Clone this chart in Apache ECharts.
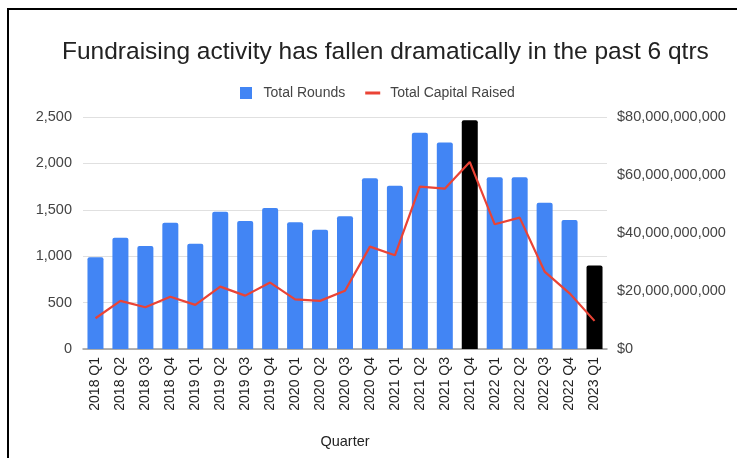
<!DOCTYPE html>
<html>
<head>
<meta charset="utf-8">
<script src="https://cdn.jsdelivr.net/npm/echarts@6/dist/echarts.min.js"></script>
<style>
  html, body { margin: 0; padding: 0; background: #fff; }
  #frame {
    position: absolute; left: 7px; top: 8px; width: 730px; height: 450px;
    border-top: 2px solid #000; border-left: 2px solid #000; box-sizing: border-box;
  }
  #chart { position: absolute; left: 0; top: 0; width: 737px; height: 458px; }
</style>
</head>
<body>
<div id="chart"></div>
<div id="frame"></div>
<script>
// quarters
const quarters = [
  '2018 Q1', '2018 Q2', '2018 Q3', '2018 Q4',
  '2019 Q1', '2019 Q2', '2019 Q3', '2019 Q4',
  '2020 Q1', '2020 Q2', '2020 Q3', '2020 Q4',
  '2021 Q1', '2021 Q2', '2021 Q3', '2021 Q4',
  '2022 Q1', '2022 Q2', '2022 Q3', '2022 Q4',
  '2023 Q1'
]
// number of rounds (left axis)
const totalRounds = [
  990, 1200, 1110, 1360,
  1135, 1480, 1380, 1520,
  1365, 1285, 1430, 1840,
  1760, 2330, 2225, 2465,
  1850, 1850, 1575, 1390,
  900
]
// capital raised, $ (right axis)
const capitalRaised = [
  10.6e9, 16.6e9, 14.4e9, 18.0e9,
  15.2e9, 21.5e9, 18.4e9, 22.9e9,
  17.1e9, 16.6e9, 20.1e9, 35.3e9,
  32.3e9, 56.0e9, 55.3e9, 64.5e9,
  43.0e9, 45.3e9, 26.7e9, 19.2e9,
  9.7e9
]
// quarters drawn in black
const highlighted = ['2021 Q4', '2023 Q1']

const blue = '#4285f4'
const red = '#ea4335'
const textColor = '#444'
const font = 'Liberation Sans, Arial, sans-serif'

const chart = echarts.init(document.getElementById('chart'))

const barData = totalRounds.map((v, i) => {
  if (highlighted.includes(quarters[i])) {
    return { value: v, itemStyle: { color: '#000' } }
  }
  return v
})

const option = {
  backgroundColor: '#fff',
  animation: false,
  textStyle: { fontFamily: font },
  title: {
    text: 'Fundraising activity has fallen dramatically in the past 6 qtrs',
    left: 57,
    top: 35,
    textStyle: { fontFamily: font, fontSize: 24.5, fontWeight: 'normal', color: '#222' }
  },
  legend: {
    left: 235,
    top: 81,
    itemWidth: 15,
    itemHeight: 12,
    itemGap: 20,
    textStyle: { fontFamily: font, fontSize: 14, color: textColor, padding: [0, 0, 0, 5] },
    data: [
      { name: 'Total Rounds', icon: 'path://M0,0H1V1H0Z' },
      { name: 'Total Capital Raised', icon: 'path://M0,0H15V3H0Z' }
    ]
  },
  grid: { left: 83, right: 130, top: 117, bottom: 109, containLabel: false },
  xAxis: {
    type: 'category',
    data: quarters,
    name: 'Quarter',
    nameLocation: 'middle',
    nameGap: 85,
    nameTextStyle: { fontFamily: font, fontSize: 14.5, color: '#222' },
    axisLine: { lineStyle: { color: '#999', width: 1.5 } },
    axisTick: { show: false },
    axisLabel: { rotate: 90, interval: 0, margin: 8, fontSize: 14, color: '#222' }
  },
  yAxis: [
    {
      type: 'value',
      min: 0,
      max: 2500,
      interval: 500,
      axisLine: { show: false },
      axisTick: { show: false },
      axisLabel: {
        margin: 11,
        fontSize: 14.5,
        color: textColor,
        formatter: v => v.toLocaleString('en-US')
      },
      splitLine: { lineStyle: { color: '#e0e0e0', width: 1 } }
    },
    {
      type: 'value',
      min: 0,
      max: 80e9,
      interval: 20e9,
      axisLine: { show: false },
      axisTick: { show: false },
      splitLine: { show: false },
      axisLabel: {
        margin: 10,
        fontSize: 14.5,
        color: textColor,
        formatter: v => '$' + v.toLocaleString('en-US')
      }
    }
  ],
  series: [
    {
      name: 'Total Rounds',
      type: 'bar',
      yAxisIndex: 0,
      barWidth: 16,
      itemStyle: { color: blue, borderRadius: [2, 2, 0, 0] },
      data: barData
    },
    {
      name: 'Total Capital Raised',
      type: 'line',
      yAxisIndex: 1,
      symbol: 'none',
      itemStyle: { color: red },
      lineStyle: { color: red, width: 2.2 },
      data: capitalRaised
    }
  ]
}

chart.setOption(option)
</script>
</body>
</html>
